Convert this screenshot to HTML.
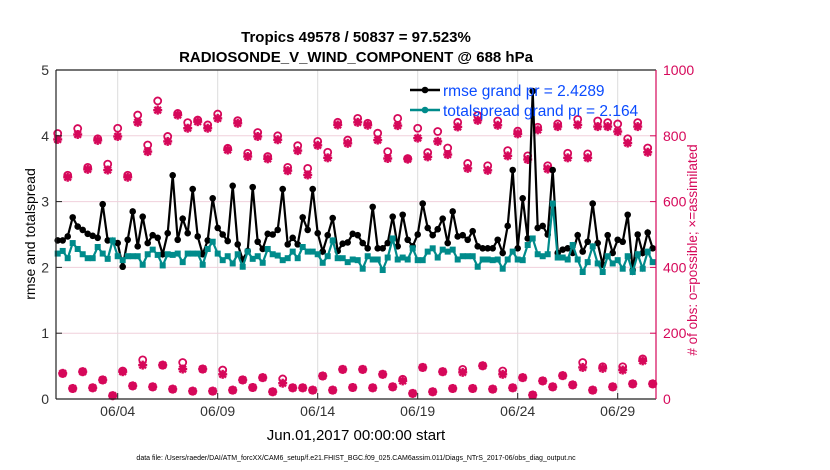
<!DOCTYPE html>
<html><head><meta charset="utf-8"><style>
body{margin:0;background:#fff;}
svg{display:block;font-family:"Liberation Sans",sans-serif;}
</style></head><body>
<svg id="chart" width="830" height="470" viewBox="0 0 830 470" xmlns="http://www.w3.org/2000/svg">
<text x="356" y="42" text-anchor="middle" font-size="15" font-weight="bold">Tropics 49578 / 50837 = 97.523%</text>
<text x="356" y="62" text-anchor="middle" font-size="15" font-weight="bold">RADIOSONDE_V_WIND_COMPONENT @ 688 hPa</text>
<g id="grid"></g>
<g id="obs"></g>
<g id="lines"></g>
<g id="axes"></g>
<text transform="translate(35,234) rotate(-90)" text-anchor="middle" font-size="14">rmse and totalspread</text>
<text transform="translate(697,250) rotate(-90)" text-anchor="middle" font-size="13.5" fill="#d6085a"># of obs: o=possible; ×=assimilated</text>
<text x="356" y="440" text-anchor="middle" font-size="15">Jun.01,2017 00:00:00 start</text>
<text x="356" y="460" text-anchor="middle" font-size="7">data file: /Users/raeder/DAI/ATM_forcXX/CAM6_setup/f.e21.FHIST_BGC.f09_025.CAM6assim.011/Diags_NTrS_2017-06/obs_diag_output.nc</text>
<g id="legend"></g>
</svg>
<script>
const rmse=[2.41,2.41,2.47,2.76,2.62,2.57,2.51,2.48,2.45,2.96,2.41,2.40,2.37,2.01,2.42,2.85,2.32,2.77,2.37,2.49,2.45,2.2,2.52,3.40,2.42,2.74,2.52,3.19,2.47,2.2,2.41,3.05,2.6,2.5,2.4,3.24,2.35,2.12,2.25,3.22,2.39,2.28,2.51,2.5,2.57,3.19,2.35,2.45,2.35,2.76,2.57,3.19,2.52,2.24,2.49,2.75,2.25,2.36,2.38,2.51,
2.49,2.37,2.29,2.92,2.29,2.29,2.37,2.77,2.32,2.8,2.42,2.32,2.5,2.97,2.6,2.49,2.58,2.74,2.37,2.85,2.47,2.49,2.42,2.55,2.32,2.29,2.29,2.29,2.42,2.22,2.63,3.48,2.29,3.05,2.44,4.68,2.6,2.63,2.5,3.48,2.22,2.27,2.29,2.22,2.49,2.24,2.39,2.97,2.37,2.04,2.49,2.22,2.42,2.39,2.8,1.96,2.5,2.22,2.53,2.29];
const spread=[2.21,2.25,2.14,2.37,2.28,2.2,2.14,2.14,2.31,2.21,2.13,2.41,2.17,2.11,2.17,2.17,2.17,2.04,2.2,2.27,2.19,2.03,2.2,2.19,2.21,2.08,2.21,2.21,2.21,2.04,2.28,2.39,2.21,2.11,2.17,2.06,2.2,2.01,2.24,2.13,2.17,2.07,2.28,2.2,2.18,2.11,2.14,2.24,2.14,2.31,2.24,2.24,2.2,2.07,2.17,2.41,2.14,2.14,2.08,2.12,
2.11,1.98,2.17,2.12,2.12,1.96,2.15,2.44,2.12,2.15,2.12,2.29,2.11,2.11,2.24,2.29,2.15,2.27,2.24,2.27,2.12,2.17,2.17,2.17,2.01,2.12,2.12,2.11,2.12,1.98,2.12,2.24,2.12,2.11,2.34,2.44,2.2,2.17,2.2,2.97,2.15,2.15,2.12,2.34,2.12,1.93,2.08,2.32,2.06,1.93,2.17,2.06,2.11,1.98,2.17,1.93,2.2,1.98,2.24,2.08];
const possibleHigh=[807,680,822,704,791,714,823,680,863,772,906,798,868,840,848,833,866,762,846,747,810,737,800,704,770,701,783,750,841,787,
853,838,808,752,853,731,823,749,813,763,841,716,862,709,845,755,814,739,826,709,836,747,850,745,845,840,836,791,840,763];
const assimHigh=[789,674,804,698,786,696,798,674,841,752,878,783,863,823,843,823,853,757,838,737,798,730,788,694,755,681,771,733,833,777,
841,832,787,731,831,729,793,736,783,743,827,701,847,695,832,739,806,728,818,699,828,733,833,733,828,828,813,778,828,750];
const possibleLow=[78,32,83,34,58,10,85,40,119,37,103,30,111,24,91,24,88,27,58,35,65,22,61,34,34,27,70,27,90,35,
90,34,75,37,60,17,96,22,83,32,90,32,101,30,85,34,65,12,55,37,71,43,111,27,98,37,98,46,122,46];
const assimLow=[78,32,83,34,58,10,83,40,103,37,103,30,91,24,91,24,75,27,58,35,65,22,48,34,34,27,70,27,90,35,
90,34,75,37,55,17,96,22,83,32,81,32,101,30,75,34,65,12,55,37,71,43,96,27,93,37,88,46,116,46];
const xTickDays=[3,8,13,18,23,28];
const xTickLabels=["06/04","06/09","06/14","06/19","06/24","06/29"];
const yLeftTicks=[0,1,2,3,4,5];
const yRightTicks=[0,200,400,600,800,1000];

const NS="http://www.w3.org/2000/svg";
const L=56,R=656,T=70,B=399;
const X=d=>57.7+d*20;
const YL=v=>B-(v/5)*(B-T);
const YR=v=>B-(v/1000)*(B-T);
const MAG="#d6085a",TEAL="#008b8b";
function mk(p,tag,at){const e=document.createElementNS(NS,tag);for(const k in at)e.setAttribute(k,at[k]);p.appendChild(e);return e;}
const g=document.getElementById('grid'),ax=document.getElementById('axes'),ob=document.getElementById('obs'),ln=document.getElementById('lines'),lg=document.getElementById('legend');

xTickDays.forEach((d,i)=>{
 const l=mk(g,'line',{x1:X(d),x2:X(d),y1:T,y2:B,stroke:'#dcdcdc','stroke-width':1});
 
 
 const t=mk(ax,'line',{x1:X(d),x2:X(d),y1:B,y2:B-6,stroke:'#222'});
 
 
 const tx=mk(ax,'text',{x:X(d),y:416,'text-anchor':'middle','font-size':14,fill:'#333'});
 tx.textContent=xTickLabels[i];
 
 
});
yRightTicks.forEach(v=>{
 if(v>0&&v<1000){const l=mk(g,'line',{x1:L,x2:R,y1:YR(v),y2:YR(v),stroke:'#f0d0dc','stroke-width':1});
 
 }
 const t=mk(ax,'line',{x1:R,x2:R-6,y1:YR(v),y2:YR(v),stroke:MAG});
 
 
 const tx=mk(ax,'text',{x:R+7,y:YR(v)+5,'font-size':14,fill:MAG});
 tx.textContent=v;
 
 
});
yLeftTicks.forEach(v=>{
 const t=mk(ax,'line',{x1:L,x2:L+6,y1:YL(v),y2:YL(v),stroke:'#222'});
 
 
 const tx=mk(ax,'text',{x:L-7,y:YL(v)+5,'text-anchor':'end','font-size':14,fill:'#333'});
 tx.textContent=v;
 
 
});
[[L,T,R,T,'#222','top-axis'],[L,B,R,B,'#222','x-axis'],[L,T,L,B,'#222','y-axis-left'],[R,T,R,B,MAG,'y-axis-right']].forEach(a=>{
 const l=mk(ax,'line',{x1:a[0],y1:a[1],x2:a[2],y2:a[3],stroke:a[4],'stroke-width':1.2});
 
 
});

function star(p,x,y){
 const s=mk(p,'g',{stroke:MAG,'stroke-width':2.4});
 
 
 mk(s,'line',{x1:x-4.5,x2:x+4.5,y1:y,y2:y});mk(s,'line',{x1:x,x2:x,y1:y-4.5,y2:y+4.5});
 mk(s,'line',{x1:x-3.3,x2:x+3.3,y1:y-3.3,y2:y+3.3});mk(s,'line',{x1:x-3.3,x2:x+3.3,y1:y+3.3,y2:y-3.3});
}
function ring(p,x,y){
 const c=mk(p,'circle',{cx:x,cy:y,r:3.5,fill:'none',stroke:MAG,'stroke-width':1.8});
 
 
}
possibleHigh.forEach((v,i)=>{ring(ob,X(i*0.5),YR(v));star(ob,X(i*0.5),YR(assimHigh[i]));});
possibleLow.forEach((v,i)=>{ring(ob,X(i*0.5+0.25),YR(v));star(ob,X(i*0.5+0.25),YR(assimLow[i]));});

function series(vals,color,name,sq){
 const pts=vals.map((v,i)=>X(i*0.25)+','+YL(v)).join(' ');
 const pl=mk(ln,'polyline',{points:pts,fill:'none',stroke:color,'stroke-width':2.2});
 
 
 vals.forEach((v,i)=>{
  const m=sq?mk(ln,'rect',{x:X(i*0.25)-3,y:YL(v)-3,width:6,height:6,fill:color}):mk(ln,'circle',{cx:X(i*0.25),cy:YL(v),r:3.3,fill:color});
  
  
 });
}
series(rmse,'#000','rmse',false);
series(spread,TEAL,'totalspread',true);

[["rmse grand pr = 2.4289",'#000',90],["totalspread grand pr = 2.164",TEAL,110]].forEach(e=>{
 const l=mk(lg,'line',{x1:410,x2:440,y1:e[2],y2:e[2],stroke:e[1],'stroke-width':2.4});
 
 
 const c=mk(lg,'circle',{cx:425,cy:e[2],r:3.3,fill:e[1]});
 
 
 const t=mk(lg,'text',{x:443,y:e[2]+6,'font-size':15.5,fill:'#0a4bff'});
 t.textContent=e[0];
 
 
});
</script>
</body></html>
